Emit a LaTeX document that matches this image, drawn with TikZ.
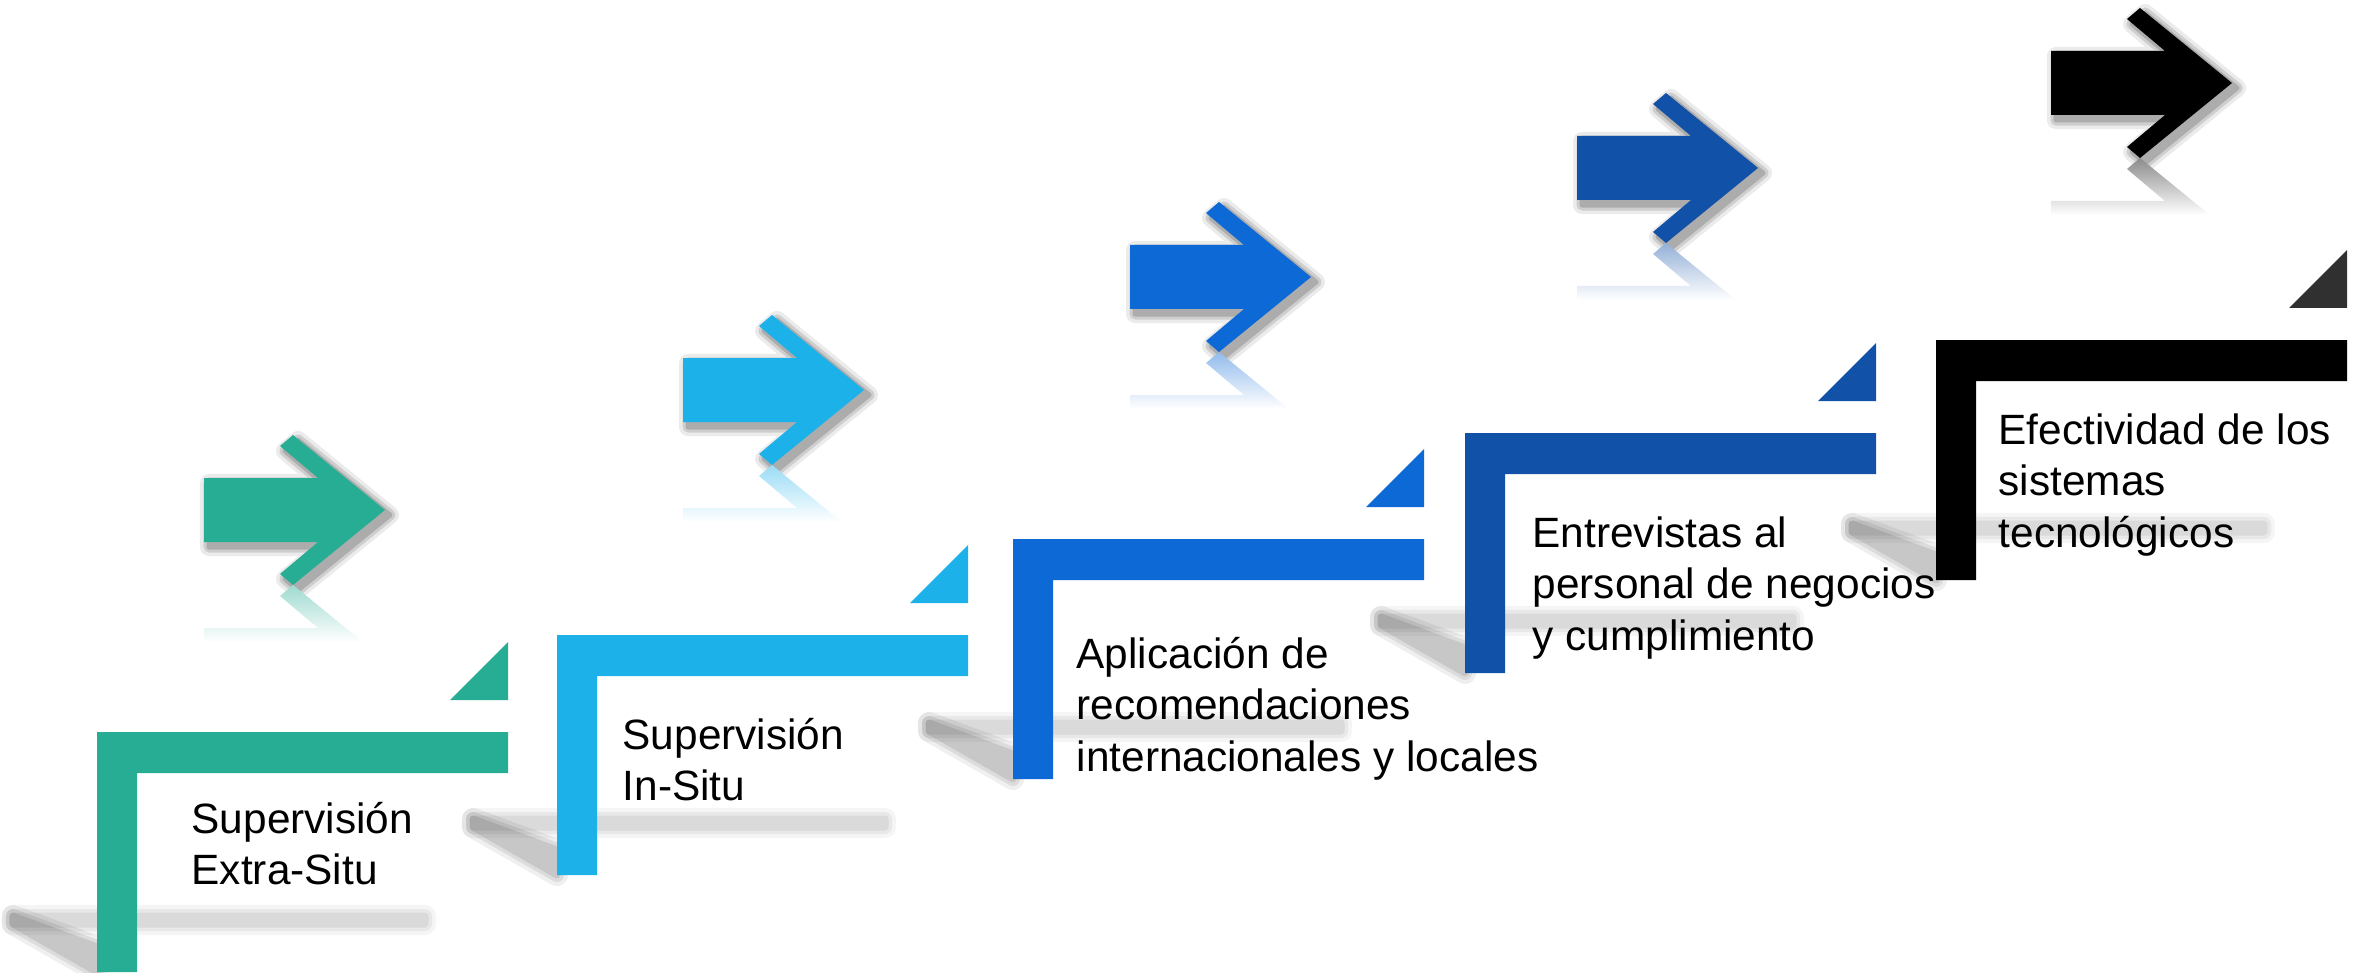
\documentclass[tikz,border=0pt]{standalone}
\usepackage{fontspec}
\setmainfont{Liberation Sans}
\definecolor{cgreen}{HTML}{28AD95}
\definecolor{clight}{HTML}{1DB1EA}
\definecolor{cblue}{HTML}{0D69D6}
\definecolor{cdark}{HTML}{1151A8}
\definecolor{cblack}{HTML}{000000}
\definecolor{ctri}{HTML}{303030}
\newcommand{\arrowpoly}{(-181,-32) -- (-67,-32) -- (-105,-64) -- (-92,-75) -- (0,0) -- (-92,75) -- (-105,64) -- (-67,32) -- (-181,32) -- cycle}
\newcommand{\reflpoly}{(-181,182) -- (-67,182) -- (-105,214) -- (-92,225) -- (0,150) -- (-92,75) -- (-105,86) -- (-67,118) -- (-181,118) -- cycle}
% #1 colour, #2 tip x, #3 tip y
\newcommand{\stepArrow}[3]{%
  \begin{scope}[shift={(#2,#3)}]
    \foreach \w/\o in {18/0.08, 11/0.12, 5/0.16}{
      \begin{scope}[transparency group, opacity=\o]
        \filldraw[black, line width=\w*0.1mm, line join=round, shift={(5,5)}] \arrowpoly;
      \end{scope}
    }
    \fill[#1] \arrowpoly;
    \begin{scope}
      \clip \reflpoly;
      \shade[top color=#1!45!white, bottom color=white] (-190,75) rectangle (10,132);
    \end{scope}
  \end{scope}}
% #1 X0, #2 Ytop : soft floor shadow of an L step
\newcommand{\floorShadow}[2]{%
  \foreach \w/\o in {22/0.04, 14/0.05, 7/0.06}{
    \begin{scope}[transparency group, opacity=\o]
      \filldraw[black, line width=\w*0.1mm, line join=round]
        ({#1-84},{#2+184}) rectangle ({#1+328},{#2+192});
    \end{scope}
    \begin{scope}[transparency group, opacity=1.6*\o]
      \filldraw[black, line width=\w*0.1mm, line join=round]
        ({#1-84},{#2+184}) -- ({#1},{#2+215}) -- ({#1},{#2+240}) -- ({#1-84},{#2+192}) -- cycle;
    \end{scope}
  }}
% #1 colour, #2 triangle colour, #3 X0, #4 Ytop
\newcommand{\stepL}[4]{%
  \fill[#1] ({#3},{#4}) -- ({#3+411},{#4}) -- ({#3+411},{#4+41}) -- ({#3+40},{#4+41})
    -- ({#3+40},{#4+240}) -- ({#3},{#4+240}) -- cycle;
  \fill[#2] ({#3+353},{#4-32}) -- ({#3+411},{#4-32}) -- ({#3+411},{#4-90}) -- cycle;}
\tikzset{lbl/.style={anchor=north west, inner sep=0pt, align=left, text=black,
  font=\fontsize{12.05pt}{14.6pt}\selectfont}}
\begin{document}
\begin{tikzpicture}[x=0.01cm, y=-0.01cm]
\useasboundingbox (0,0) rectangle (2369,973);
\fill[white] (0,0) rectangle (2369,973);
% floor shadows
\floorShadow{97}{732}
\floorShadow{557}{635}
\floorShadow{1013}{539}
\floorShadow{1465}{433}
\floorShadow{1936}{340}
% arrows
\stepArrow{cgreen}{385}{510}
\stepArrow{clight}{864}{390}
\stepArrow{cblue}{1311}{277}
\stepArrow{cdark}{1758}{168}
\stepArrow{cblack}{2232}{83}
% steps
\stepL{cgreen}{cgreen}{97}{732}
\stepL{clight}{clight}{557}{635}
\stepL{cblue}{cblue}{1013}{539}
\stepL{cdark}{cdark}{1465}{433}
\stepL{cblack}{ctri}{1936}{340}
% labels
\node[lbl] (t1) at (191,797) {\strut Supervisión\\Extra-Situ};
\node[lbl] (t2) at (622,713) {\strut Supervisión\\In-Situ};
\node[lbl] (t3) at (1076,632) {\strut Aplicación de\\recomendaciones\\internacionales y locales};
\node[lbl] (t4) at (1532,511) {\strut Entrevistas al\\personal de negocios\\y cumplimiento};
\node[lbl] (t5) at (1998,408) {\strut Efectividad de los\\sistemas\\tecnológicos};
\end{tikzpicture}
\end{document}
